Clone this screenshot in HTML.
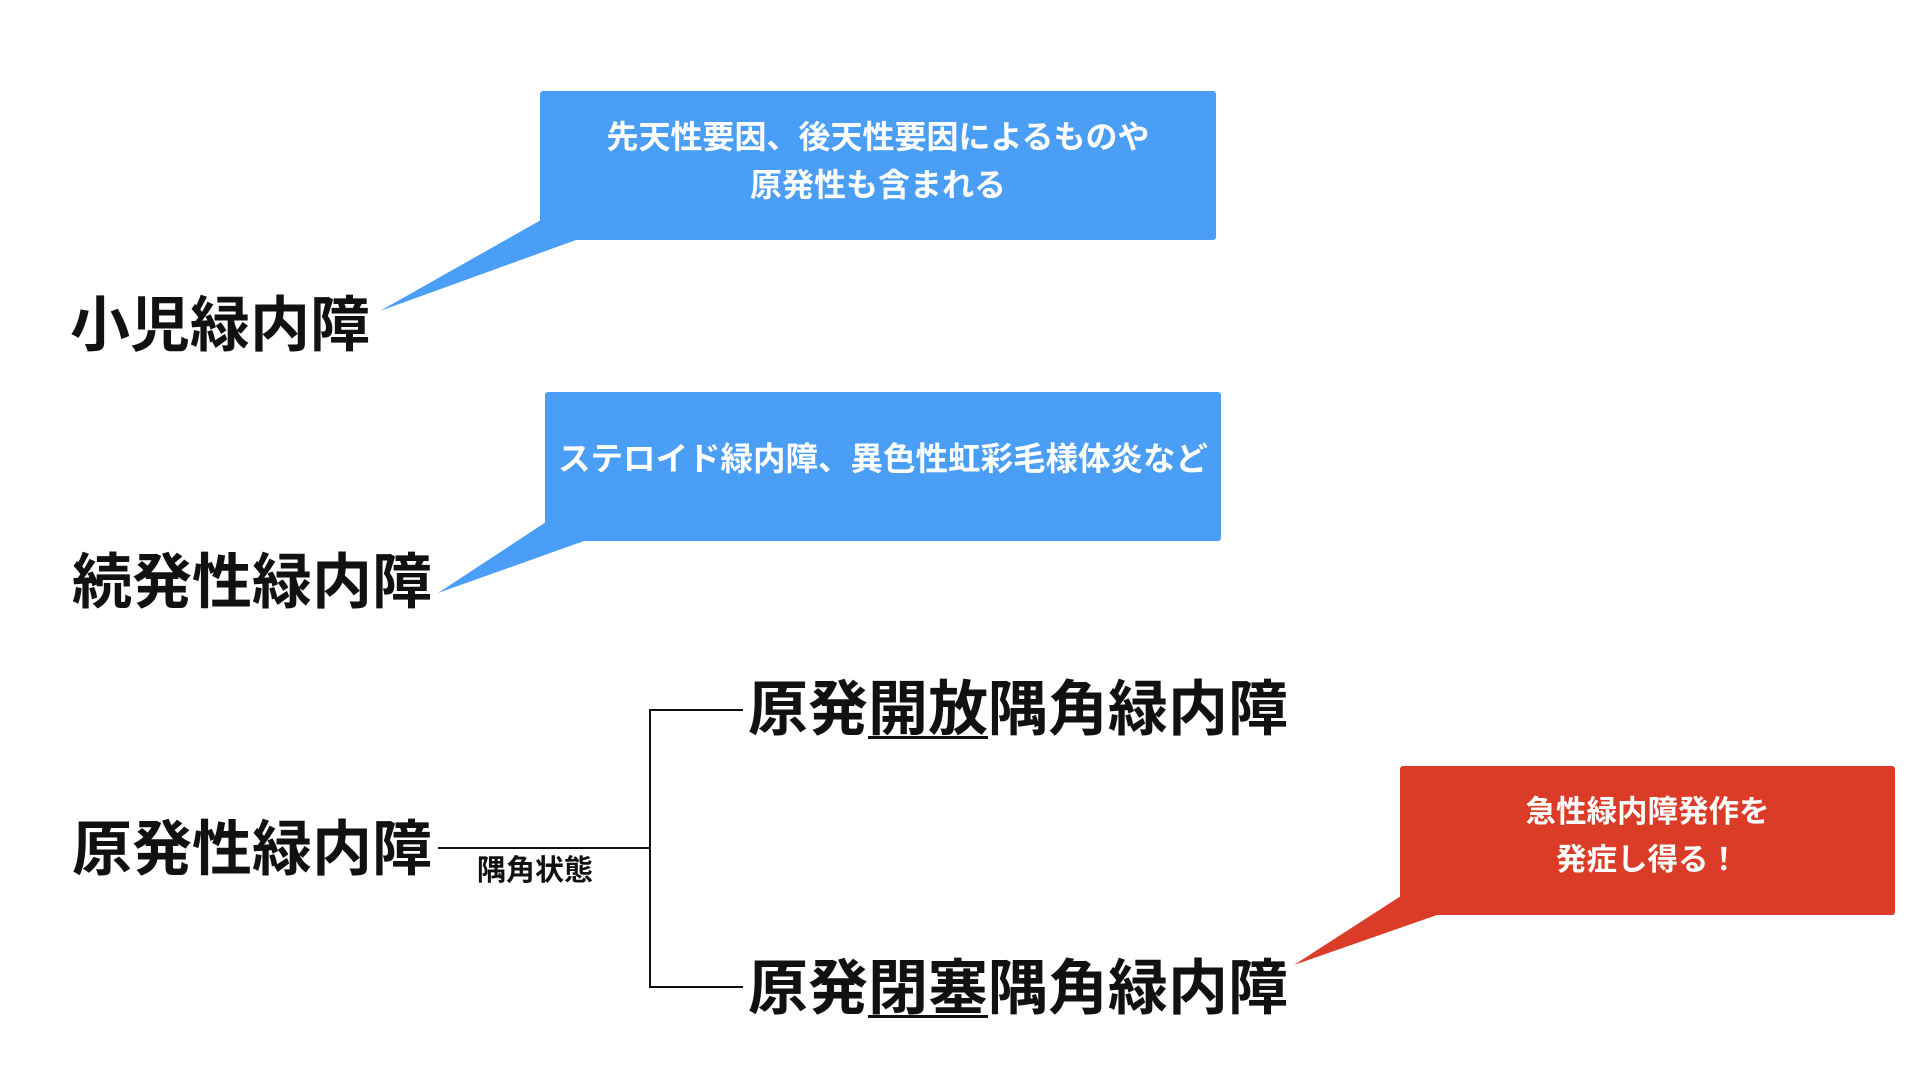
<!DOCTYPE html>
<html><head><meta charset="utf-8"><style>
body{margin:0;width:1920px;height:1080px;background:#fff;position:relative;overflow:hidden;font-family:"Liberation Sans","Noto Sans CJK JP",sans-serif;}
.t{position:absolute;font-weight:bold;font-size:60px;line-height:60px;color:#111;white-space:nowrap;}
.b{position:absolute;color:#fff;font-weight:bold;font-size:32px;line-height:48px;text-align:center;display:flex;align-items:center;justify-content:center;border-radius:3px;white-space:nowrap;}
.u{text-decoration:underline;text-decoration-thickness:3px;text-underline-offset:6px;}
.l{position:absolute;background:#111;}
</style></head><body>
<svg width="1920" height="1080" style="position:absolute;left:0;top:0">
<polygon points="541,220 380,311 576,240" fill="#4A9EF5"/>
<polygon points="546,522 438,593 584,541" fill="#4A9EF5"/>
<polygon points="1401,896 1294,965 1437,915" fill="#DB3C27"/>
</svg>
<div class="b" style="left:540px;top:91px;width:676px;height:149px;background:#4A9EF5;padding-bottom:10px;box-sizing:border-box">先天性要因、後天性要因によるものや<br>原発性も含まれる</div>
<div class="b" style="left:545px;top:392px;width:676px;height:149px;background:#4A9EF5;align-items:flex-start;padding-top:43px;box-sizing:border-box;font-size:32.5px">ステロイド緑内障、異色性虹彩毛様体炎など</div>
<div class="b" style="left:1400px;top:766px;width:495px;height:149px;background:#DB3C27;font-size:30.5px;padding-bottom:10px;box-sizing:border-box">急性緑内障発作を<br>発症し得る！</div>
<div class="t" style="left:70px;top:296px">小児緑内障</div>
<div class="t" style="left:72px;top:553px">続発性緑内障</div>
<div class="t" style="left:72px;top:820px">原発性緑内障</div>
<div class="t" style="left:748px;top:680px">原発<span class="u">開放</span>隅角緑内障</div>
<div class="t" style="left:748px;top:959px">原発<span class="u">閉塞</span>隅角緑内障</div>
<div style="position:absolute;left:477px;top:847px;font-size:29px;font-weight:bold;color:#111">隅角状態</div>
<div class="l" style="left:438px;top:847px;width:213px;height:2px"></div>
<div class="l" style="left:649px;top:709px;width:2px;height:279px"></div>
<div class="l" style="left:649px;top:709px;width:94px;height:2px"></div>
<div class="l" style="left:649px;top:986px;width:94px;height:2px"></div>
</body></html>
